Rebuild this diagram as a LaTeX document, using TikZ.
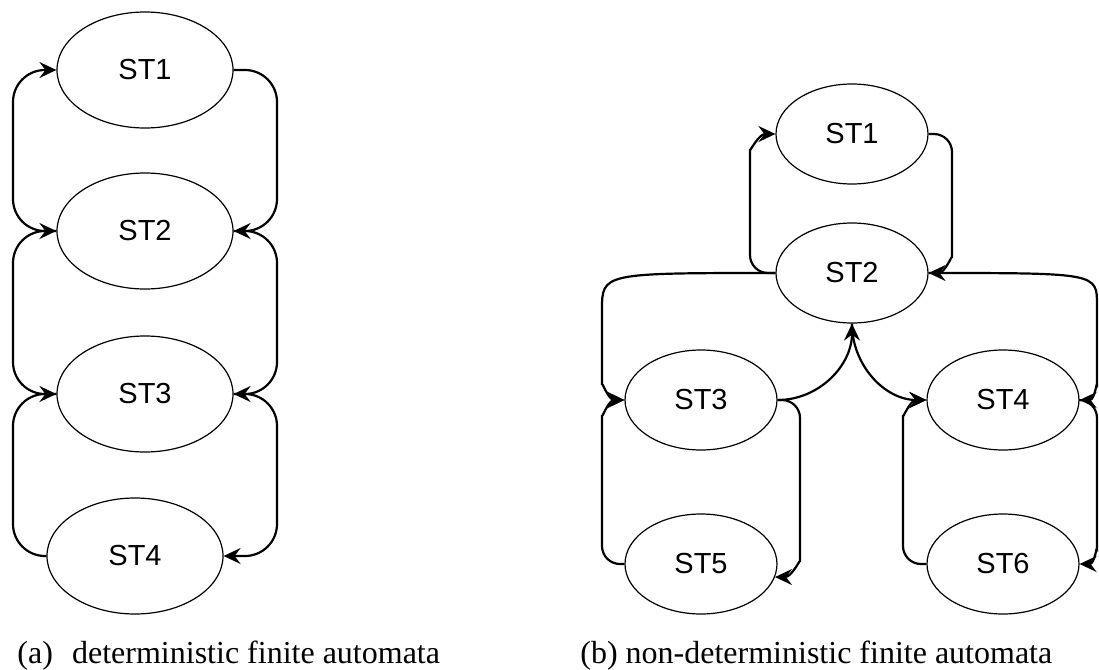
\documentclass[tikz,border=0pt]{standalone}
\usepackage{fontspec}
\setmainfont{Liberation Serif}
\setsansfont{Liberation Sans}
\usetikzlibrary{arrows.meta, positioning, calc, shapes.geometric}

\begin{document}
\begin{tikzpicture}[x=0.5pt, y=-0.5pt, >={Stealth[length=8.5pt, width=8pt, inset=3pt]},
  state/.style={draw, ellipse, line width=0.6pt, inner sep=0pt, font=\sffamily\fontsize{14.5}{17}\selectfont},
  statea/.style={state, minimum width=88pt, minimum height=58pt},
  stateb/.style={state, minimum width=76pt, minimum height=50pt},
  link/.style={->, line width=1.1pt, rounded corners=9pt},
  legend/.style={anchor=base west, inner sep=0pt, font=\fontsize{16}{19}\selectfont}]
  \useasboundingbox (0,0) rectangle (1099,670);

  % (a) automate deterministe
  \node[statea] (a1) at (145,70) {ST1};
  \node[statea] (a2) at (145,231) {ST2};
  \node[statea] (a3) at (145,394) {ST3};
  \node[statea] (a4) at (135,556) {ST4};
  \coordinate (aL) at (13,0);
  \coordinate (aR) at (277,0);

  % vers le bas (droite)
  \draw[link, rounded corners=16pt] (a1.east) -| (aR |- a2.east) -- (a2.east);
  \draw[link, rounded corners=16pt] (a2.east) -| (aR |- a3.east) -- (a3.east);
  \draw[link, rounded corners=16pt] (a3.east) -| (aR |- a4.east) -- (a4.east);

  % vers le haut (gauche)
  \draw[link, rounded corners=16pt] (a2.west) -| (aL |- a1.west) -- (a1.west);
  \draw[link, rounded corners=16pt] (a3.west) -| (aL |- a2.west) -- (a2.west);
  \draw[link, rounded corners=16pt] (a4.west) -| (aL |- a3.west) -- (a3.west);

  % (b) automate non deterministe
  \node[stateb] (b1) at (852,134) {ST1};
  \node[stateb] (b2) at (852,273) {ST2};
  \node[stateb] (b3) at (701,400) {ST3};
  \node[stateb] (b4) at (1003,400) {ST4};
  \node[stateb] (b5) at (701,564) {ST5};
  \node[stateb] (b6) at (1003,564) {ST6};
  \coordinate (bL1) at (750,0);
  \coordinate (bR1) at (952,0);
  \coordinate (bL3) at (602,0);
  \coordinate (bR3) at (800,0);
  \coordinate (bL4) at (903,0);
  \coordinate (bR4) at (1097,0);

  % ST1 <-> ST2
  \draw[link] (b2.west) -| ($(bL1 |- b1.west)+(0,34)$) to[out=90, in=180] (b1.west);
  \draw[link] (b1.east) -| ($(bR1 |- b2.east)+(0,-34)$) to[out=-90, in=0] (b2.east);

  % branche gauche
  \draw[link] (b2.west) .. controls (bL3 |- b2.west) .. ($(bL3 |- b2.west)+(0,55)$)
    -- ($(bL3 |- b3.west)+(0,-34)$) to[out=-90, in=180] (b3.west);
  \draw[link] (b5.west) -| ($(bL3 |- b3.west)+(0,34)$) to[out=90, in=180] (b3.west);
  \draw[link] (b3.east) -| ($(bR3 |- b5.-10)+(0,-34)$) to[out=-90, in=0] (b5.-10);
  \draw[link] (b3.east) to[out=0, in=-90] (b2.south);

  % branche droite
  \draw[link] (b2.south) to[out=-90, in=180] (b4.west);
  \draw[link] (b6.west) -| ($(bL4 |- b4.west)+(0,34)$) to[out=90, in=180] (b4.west);
  \draw[link] (b2.east) .. controls (bR4 |- b2.east) .. ($(bR4 |- b2.east)+(0,50)$)
    -- ($(bR4 |- b4.east)+(0,-34)$) to[out=-90, in=0] (b4.east);
  \draw[link] (b4.east) -| ($(bR4 |- b6.east)+(0,-34)$) to[out=-90, in=0] (b6.east);

  % Legendes
  \node[legend] (capa) at (17,663) {(a)\hspace{0.6em}deterministic finite automata};
  \node[legend] (capb) at (580,663) {(b) non-deterministic finite automata};
\end{tikzpicture}
\end{document}
